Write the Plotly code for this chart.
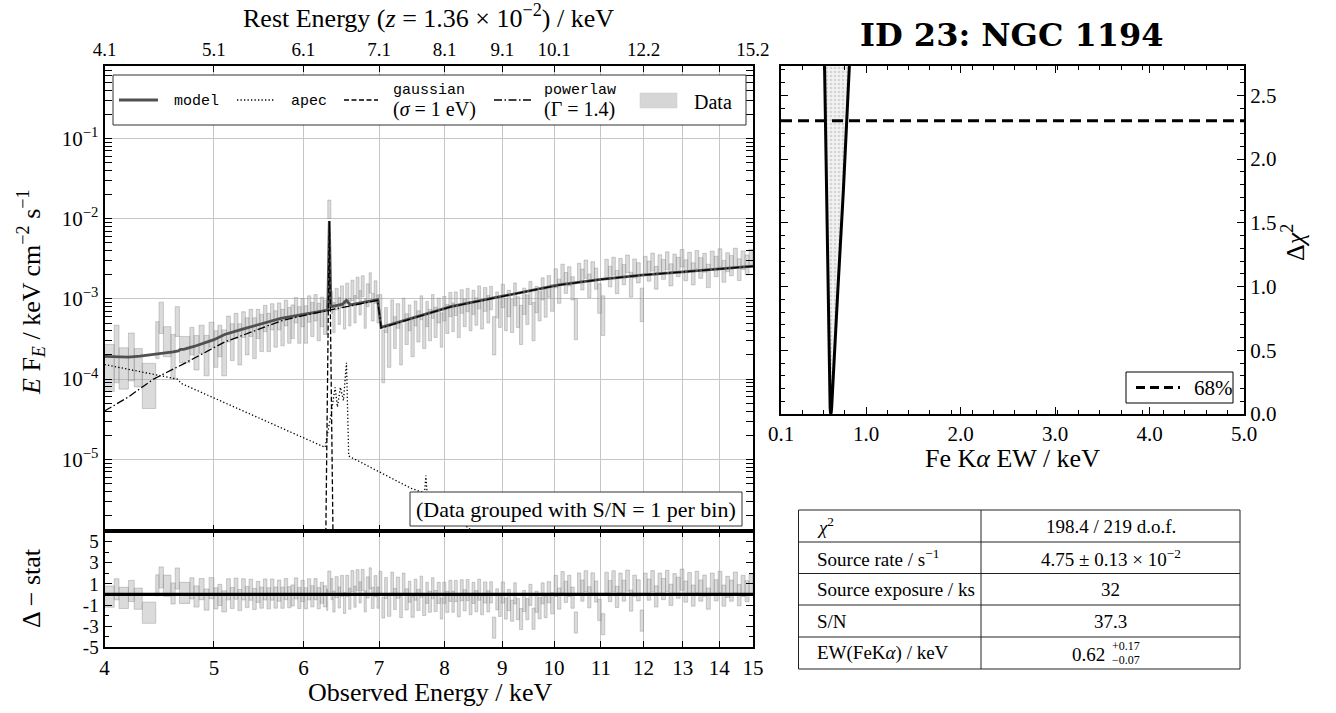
import numpy as np
import plotly.graph_objects as go

W, H = 1336, 713
SERIF = "Liberation Serif, DejaVu Serif, serif"
BOLDSERIF = "DejaVu Serif, Liberation Serif, serif"
MONO = "Liberation Mono, DejaVu Sans Mono, monospace"
GRID = "#c6c6c6"

# ------------------------------------------------------------------ data
UNIT = 1e-4  # spectral values below are in units of 1e-4 keV cm^-2 s^-1

# grouped spectrum: bin edges (keV), E F_E and 1-sigma error per bin
edges_a = [4.00, 4.08, 4.12, 4.20, 4.25, 4.32, 4.44, 4.47, 4.51, 4.58, 4.62, 4.66, 4.76, 4.80]
flux_a = [1.7, 2.8, 1.6, 2.35, 1.6, 1.0, 3.5, 6.4, 3.2, 2.3, 5.7, 2.5, 3.2]
err_a = [1.0, 1.9, 0.85, 1.4, 0.8, 0.57, 1.7, 2.7, 1.3, 1.3, 2.3, 0.9, 1.2]

edges_b = [4.80, 4.85, 4.90, 4.95, 5.00, 5.04, 5.08, 5.13, 5.17, 5.21, 5.25, 5.29, 5.33,
           5.37, 5.41, 5.45, 5.49, 5.53, 5.57, 5.61, 5.65, 5.69, 5.73, 5.77, 5.81, 5.85,
           5.89, 5.93, 5.97, 6.01, 6.05, 6.09, 6.13, 6.17, 6.21, 6.25, 6.29]
flux_b = [2.4, 3.4, 2.3, 3.8, 2.7, 3.3, 2.6, 4.5, 3.3, 4.9, 3.2, 5.1, 3.9, 5.4, 3.8, 5.3,
          4.3, 6.1, 4.4, 6.4, 4.8, 6.5, 5.0, 7.1, 5.3, 5.8, 7.7, 5.4, 7.3, 5.5, 8.0, 6.2,
          8.3, 5.9, 7.5, 6.6]
err_b = [1.1, 1.3, 1.2, 1.3, 1.3, 1.4, 1.5, 1.6, 1.6, 1.7, 1.7, 1.8, 1.9, 2.0, 2.0, 2.1,
         2.1, 2.2, 2.2, 2.3, 2.3, 2.4, 2.4, 2.5, 2.5, 2.6, 2.7, 2.6, 2.8, 2.7, 2.9, 2.8,
         3.0, 2.9, 3.0, 3.0]

edges_c = [6.29, 6.305, 6.345, 6.37, 6.40, 6.44, 6.47, 6.51, 6.54, 6.58, 6.61, 6.65, 6.68,
           6.72, 6.75, 6.79, 6.82, 6.86, 6.89, 6.93, 6.97, 7.00]
flux_c = [6.0, 135.0, 9.5, 6.4, 10.4, 7.6, 11.2, 6.9, 12.2, 7.4, 13.3, 8.0, 14.4, 9.5, 15.0,
          7.2, 11.7, 16.5, 8.5, 12.8, 8.1]
err_c = [2.4, 35.0, 2.9, 2.6, 3.1, 2.8, 3.3, 2.7, 3.5, 2.8, 3.8, 3.0, 4.2, 3.2, 4.4, 2.9,
         3.7, 4.7, 3.2, 4.0, 3.1]

edges_d = [7.00, 7.04, 7.08, 7.12, 7.17, 7.21, 7.25, 7.30, 7.34, 7.38, 7.43, 7.47, 7.52,
           7.56, 7.61, 7.65, 7.70, 7.74, 7.79, 7.83, 7.88, 7.93, 7.97, 8.02, 8.07, 8.12,
           8.16, 8.21, 8.26, 8.31, 8.36, 8.41, 8.46, 8.51, 8.56, 8.61, 8.66, 8.72, 8.77,
           8.82, 8.88, 8.93, 8.98, 9.04, 9.09, 9.15, 9.21, 9.26, 9.32, 9.38, 9.44, 9.50,
           9.56, 9.62, 9.68, 9.74, 9.80, 9.86, 9.93, 10.0]
flux_d = [8.5, 2.5, 5.8, 3.0, 7.4, 4.2, 6.5, 3.2, 7.8, 4.6, 6.2, 3.7, 7.0, 5.0, 8.2, 4.4,
          6.9, 5.2, 8.5, 5.6, 7.6, 4.6, 8.0, 6.1, 9.0, 6.4, 9.2, 5.7, 9.8, 7.2, 10.2, 6.6,
          9.6, 7.5, 11.0, 7.0, 10.4, 8.0, 10.8, 4.0, 9.0, 7.4, 11.5, 7.0, 9.4, 6.8, 12.0,
          7.5, 5.5, 10.0, 8.0, 12.5, 6.0, 10.5, 8.8, 14.0, 9.5, 15.0, 11.0]
err_d = [2.8, 1.6, 2.0, 1.6, 2.3, 1.8, 2.2, 1.7, 2.4, 1.9, 2.2, 1.8, 2.4, 2.1, 2.7, 2.0,
         2.4, 2.2, 2.8, 2.3, 2.6, 2.1, 2.7, 2.4, 3.0, 2.5, 3.0, 2.4, 3.2, 2.7, 3.3, 2.6,
         3.2, 2.8, 3.5, 2.8, 3.4, 3.0, 3.5, 2.0, 3.2, 3.0, 3.7, 3.0, 3.4, 3.0, 3.8, 3.1,
         2.8, 3.6, 3.2, 4.0, 3.0, 3.8, 3.5, 4.3, 3.6, 4.5, 4.0]

edges_e = [10.0, 10.07, 10.14, 10.21, 10.28, 10.35, 10.42, 10.49, 10.56, 10.63, 10.71,
           10.78, 10.86, 10.93, 11.01, 11.09, 11.17, 11.25, 11.33, 11.41, 11.49, 11.57,
           11.66, 11.74, 11.83, 11.92, 12.0, 12.09, 12.18, 12.27, 12.36, 12.45, 12.55,
           12.64, 12.74, 12.83, 12.93, 13.03, 13.13, 13.23, 13.33, 13.43, 13.54, 13.64,
           13.75, 13.86, 13.97, 14.08, 14.19, 14.30, 14.41, 14.53, 14.64, 14.76, 14.88, 15.0]
flux_e = [18.7, 13.2, 21.5, 16.5, 19.8, 14.3, 6.6, 22.0, 18.2, 24.2, 15.4, 23.1, 18.7,
          11.0, 7.2, 24.8, 19.8, 26.4, 17.1, 25.3, 20.9, 28.1, 16.0, 24.8, 22.0, 9.4, 27.0,
          23.1, 29.7, 19.3, 28.1, 24.2, 30.8, 20.9, 28.6, 25.9, 33.0, 23.7, 30.3, 21.5,
          31.9, 25.3, 29.2, 20.4, 31.4, 26.4, 33.6, 23.1, 29.7, 27.0, 34.1, 24.2, 31.4,
          27.5, 33.0]
err_e = [5.0, 4.4, 5.5, 4.8, 5.3, 4.6, 3.5, 5.7, 5.3, 6.2, 5.0, 5.9, 5.5, 4.4, 3.7, 6.3,
         5.7, 6.6, 5.5, 6.6, 5.9, 7.0, 5.5, 6.6, 6.2, 4.2, 6.9, 6.5, 7.5, 6.1, 7.3, 6.7,
         7.7, 6.4, 7.5, 7.0, 8.1, 6.9, 7.7, 6.6, 8.0, 7.3, 7.7, 6.6, 8.0, 7.5, 8.4, 7.0,
         7.9, 7.6, 8.6, 7.3, 8.1, 7.7, 8.4]

# fitted model components (keV, E F_E in 1e-4 units)
model_e = [4.0, 4.1, 4.2, 4.3, 4.4, 4.5, 4.6, 4.65, 4.67, 4.70, 4.8, 5.0, 5.11, 5.3, 5.5,
           5.73, 6.0, 6.29, 6.305, 6.325, 6.345, 6.40, 6.50, 6.55, 6.60, 6.8, 6.98, 7.03,
           7.5, 8.1, 9.0, 10.1, 11.0, 11.95, 13.0, 14.0, 15.0]
model_f = [1.92, 1.88, 1.88, 1.93, 2.0, 2.08, 2.18, 2.25, 2.35, 2.35, 2.55, 3.1, 3.6, 4.2,
           4.9, 5.7, 6.4, 7.2, 7.25, 93.0, 8.0, 8.2, 8.6, 9.6, 8.4, 9.1, 9.8, 4.4, 5.8,
           8.0, 10.8, 14.9, 17.5, 19.8, 21.7, 23.6, 25.5]

apec_e = [4.0, 4.64, 4.68, 6.27, 6.35, 6.40, 6.43, 6.47, 6.51, 6.55, 6.58, 7.47, 7.68,
          7.70, 7.72, 8.45, 9.5, 15.0]
apec_f = [1.52, 1.0, 0.88, 0.141, 0.376, 0.79, 0.45, 0.79, 0.54, 1.6, 0.11, 0.0436,
          0.038, 0.063, 0.037, 0.013, 0.006, 0.001]

gauss_e = [6.245, 6.325, 6.41]
gauss_f = [1e-5, 93.0, 1e-5]

pow_e = [4.0, 4.2, 4.42, 4.7, 5.11, 5.5, 5.73, 6.0, 6.29, 6.6, 6.98, 7.03, 7.5, 8.1, 9.0,
         10.1, 11.0, 11.95, 13.0, 14.0, 15.0]
pow_f = [0.40, 0.60, 1.0, 1.55, 2.9, 4.3, 5.3, 6.2, 7.1, 8.2, 9.6, 4.35, 5.75, 7.95,
         10.75, 14.85, 17.45, 19.75, 21.65, 23.55, 25.45]

# Fe K-alpha equivalent-width delta-chi^2 profile
ew_profile = [0.555, 0.561, 0.588, 0.609, 0.615, 0.620, 0.624, 0.627, 0.631, 0.636, 0.642,
              0.650, 0.70, 0.76, 0.823, 0.841]
dchi_profile = [3.0, 2.73, 1.4, 0.32, 0.14, 0.05, 0.012, 0.0, 0.012, 0.05, 0.14, 0.30,
                0.95, 1.75, 2.73, 3.0]
DCHI_68 = 2.30

top_tick_obs = [4, 5, 6, 7, 8, 9, 10, 11, 12, 13, 14, 15]
top_tick_text = ["4.1", "5.1", "6.1", "7.1", "8.1", "9.1", "10.1", "", "12.2", "", "", "15.2"]

table_left = ["<i>χ</i><sup>2</sup>", "Source rate / s<sup>−1</sup>", "Source exposure / ks",
              "S/N", "EW(FeK<i>α</i>) / keV"]
table_right = ["198.4 / 219 d.o.f.", "4.75 ± 0.13 × 10<sup>−2</sup>", "32", "37.3", "0.62"]

# ------------------------------------------------------------------ helpers
def fx(x):
    return x / W


def fy(y):
    return 1 - y / H


edges_all = edges_a + edges_b[1:] + edges_c[1:] + edges_d[1:] + edges_e[1:]
flux_all = flux_a + flux_b + flux_c + flux_d + flux_e
err_all = err_a + err_b + err_c + err_d + err_e
n = min(len(edges_all) - 1, len(flux_all), len(err_all))
lo = np.array(edges_all[:n])
hi = np.array(edges_all[1:n + 1])
f = np.array(flux_all[:n])
e = np.array(err_all[:n])
cen = np.sqrt(lo * hi)
mod_c = 10 ** np.interp(np.log10(cen), np.log10(model_e), np.log10(model_f))
resid = (f - mod_c) / e


def rects(x0, x1, y0, y1):
    xs, ys = [], []
    for a, b, c, d in zip(x0, x1, y0, y1):
        xs += [a, b, b, a, a, None]
        ys += [c, c, d, d, c, None]
    return xs, ys


BOX_FILL = "rgba(165,165,165,0.40)"
BOX_LINE = "rgba(135,135,135,0.55)"

fig = go.Figure()

bx, by = rects(lo, hi, (f - e) * UNIT, (f + e) * UNIT)
fig.add_trace(go.Scatter(x=bx, y=by, mode="lines", fill="toself", fillcolor=BOX_FILL,
                         line=dict(color=BOX_LINE, width=0.7), xaxis="x", yaxis="y",
                         hoverinfo="skip", showlegend=False))

fig.add_trace(go.Scatter(x=model_e, y=np.array(model_f) * UNIT, mode="lines",
                         line=dict(color="#505050", width=2.8), xaxis="x", yaxis="y",
                         showlegend=False))
fig.add_trace(go.Scatter(x=apec_e, y=np.array(apec_f) * UNIT, mode="lines",
                         line=dict(color="black", width=1.3, dash="1.3px,2.2px"),
                         xaxis="x", yaxis="y", showlegend=False))
fig.add_trace(go.Scatter(x=gauss_e, y=np.array(gauss_f) * UNIT, mode="lines",
                         line=dict(color="black", width=1.3, dash="5px,2.5px"),
                         xaxis="x", yaxis="y", showlegend=False))
fig.add_trace(go.Scatter(x=pow_e, y=np.array(pow_f) * UNIT, mode="lines",
                         line=dict(color="black", width=1.3, dash="8px,2.5px,1.5px,2.5px"),
                         xaxis="x", yaxis="y", showlegend=False))
# anchor trace for the top (rest-frame) axis
fig.add_trace(go.Scatter(x=[4, 15], y=[1e-3, 1e-3], mode="markers", marker=dict(opacity=0),
                         xaxis="x3", yaxis="y", hoverinfo="skip", showlegend=False))

# residuals
rx, ry = rects(lo, hi, resid - 1, resid + 1)
fig.add_trace(go.Scatter(x=rx, y=ry, mode="lines", fill="toself", fillcolor=BOX_FILL,
                         line=dict(color=BOX_LINE, width=0.7), xaxis="x2", yaxis="y2",
                         hoverinfo="skip", showlegend=False))
fig.add_trace(go.Scatter(x=[4, 15], y=[0, 0], mode="lines", line=dict(color="black", width=3.2),
                         xaxis="x2", yaxis="y2", showlegend=False))

# EW profile
fig.add_trace(go.Scatter(x=ew_profile, y=dchi_profile, mode="lines", fill="toself",
                         fillcolor="rgba(235,235,235,1)",
                         fillpattern=dict(shape=".", fgcolor="#b5b5b5", bgcolor="#f2f2f2",
                                          size=4, solidity=0.35),
                         line=dict(color="black", width=3), xaxis="x4", yaxis="y4",
                         showlegend=False))
fig.add_trace(go.Scatter(x=[0.1, 5.0], y=[DCHI_68, DCHI_68], mode="lines",
                         line=dict(color="black", width=3, dash="11px,6px"),
                         xaxis="x4", yaxis="y4", showlegend=False))

# ------------------------------------------------------------------ axes
X0, X1 = 104.5, 753.0
MT, MB, RB = 66.0, 531.0, 647.3
XR0, XR1, RT, RBOT = 781.0, 1244.0, 66.0, 414.0

minor_log = [m * 10.0 ** k for k in range(-7, 0) for m in range(2, 10)]
TICK = 21
tick_font = dict(family=SERIF, size=TICK, color="black")
common = dict(showline=True, linecolor="black", linewidth=2, ticks="inside",
              tickcolor="black", tickwidth=1, zeroline=False, automargin=False)
xr = [np.log10(4) - 1e-5, np.log10(15) + 1e-5]

fig.update_layout(
    width=W, height=H, margin=dict(l=0, r=0, t=0, b=0, pad=0, autoexpand=False),
    paper_bgcolor="white", plot_bgcolor="white",
    xaxis=dict(domain=[fx(X0), fx(X1)], anchor="y", type="log", range=xr,
               tickvals=list(range(4, 16)), showticklabels=False, ticklen=6,
               showgrid=True, gridcolor=GRID, gridwidth=1, **common),
    xaxis3=dict(overlaying="x", side="top", anchor="y", type="log", range=xr,
                tickvals=top_tick_obs, ticktext=top_tick_text, ticklen=6, showgrid=False,
                tickfont=dict(family=SERIF, size=19, color="black"), **common),
    yaxis=dict(domain=[fy(MB), fy(MT)], anchor="x", type="log",
               range=[np.log10(1.28e-6), np.log10(0.797)],
               tickvals=[1e-5, 1e-4, 1e-3, 1e-2, 1e-1],
               ticktext=["10<sup>−5</sup>", "10<sup>−4</sup>", "10<sup>−3</sup>",
                         "10<sup>−2</sup>", "10<sup>−1</sup>"],
               ticklen=7, mirror="allticks", showgrid=True, gridcolor=GRID, gridwidth=1,
               minor=dict(tickmode="array", tickvals=minor_log, ticks="inside", ticklen=4,
                          tickcolor="black", showgrid=False),
               tickfont=tick_font, **common),
    xaxis2=dict(domain=[fx(X0), fx(X1)], anchor="y2", type="log", range=xr,
                tickvals=list(range(4, 16)), ticktext=[str(v) for v in range(4, 16)],
                ticklen=6, mirror="allticks", showgrid=True, gridcolor=GRID, gridwidth=1,
                tickfont=tick_font, **common),
    yaxis2=dict(domain=[fy(RB), fy(MB)], anchor="x2", range=[-5, 6],
                tickvals=[-5, -3, -1, 1, 3, 5], ticktext=["-5", "-3", "-1", "1", "3", "5"],
                ticklen=7, mirror="allticks", showgrid=False,
                minor=dict(tickmode="array", tickvals=[-4, -2, 0, 2, 4], ticks="inside",
                           ticklen=4, tickcolor="black", showgrid=False),
                tickfont=dict(family=SERIF, size=19, color="black"), **common),
    xaxis4=dict(domain=[fx(XR0), fx(XR1)], anchor="y4", range=[0.1 - 1e-6, 5.0 + 1e-6],
                tickvals=[0.1, 1, 2, 3, 4, 5], ticktext=["0.1", "1.0", "2.0", "3.0", "4.0", "5.0"],
                ticklen=7, mirror="allticks", showgrid=False,
                minor=dict(tick0=0.1, dtick=0.225, ticks="inside", ticklen=4,
                           tickcolor="black", showgrid=False),
                tickfont=tick_font, **common),
    yaxis4=dict(domain=[fy(RBOT), fy(RT)], anchor="x4", side="right", range=[0, 2.73],
                tickvals=[0, 0.5, 1.0, 1.5, 2.0, 2.5],
                ticktext=["0.0", "0.5", "1.0", "1.5", "2.0", "2.5"],
                ticklen=7, mirror="allticks", showgrid=False,
                minor=dict(tick0=0, dtick=0.1, ticks="inside", ticklen=4,
                           tickcolor="black", showgrid=False),
                tickfont=tick_font, **common),
)

# ------------------------------------------------------------------ annotations & shapes
shapes = []
ann = []


def text(x, y, s, size=18, family=SERIF, xanchor="center", angle=0, bold=False):
    if bold:
        s = "<b>" + s + "</b>"
    ann.append(dict(x=fx(x), y=fy(y), xref="paper", yref="paper", text=s, showarrow=False,
                    xanchor=xanchor, yanchor="middle", textangle=angle,
                    font=dict(family=family, size=size, color="black")))


def hline(x0, x1, y, color="black", width=1.3, dash="solid"):
    shapes.append(dict(type="line", xref="paper", yref="paper", x0=fx(x0), x1=fx(x1),
                       y0=fy(y), y1=fy(y), line=dict(color=color, width=width, dash=dash),
                       layer="above"))


def rect(x0, y0, x1, y1, fill="white", line="black", width=1.0):
    shapes.append(dict(type="rect", xref="paper", yref="paper", x0=fx(x0), x1=fx(x1),
                       y0=fy(y1), y1=fy(y0), fillcolor=fill,
                       line=dict(color=line, width=width), layer="above"))


# axis titles
text(428, 16, "Rest Energy (<i>z</i> = 1.36 × 10<sup>−2</sup>) / keV", size=26)
text(430, 692, "Observed Energy / keV", size=26)
text(31, 292, "<i>E</i> F<sub><i>E</i></sub> / keV cm<sup>−2</sup> s<sup>−1</sup>", size=26,
     angle=-90)
text(31, 588, "Δ − stat", size=26, angle=-90)
text(1012, 35, "ID 23: NGC 1194", size=32, family=BOLDSERIF, bold=True)
text(1012, 458, "Fe K<i>α</i> EW / keV", size=26)
text(1293, 243, "Δ<i>χ</i><sup>2</sup>", size=26, angle=-90)

# legend of the spectrum panel
rect(113, 75, 746, 125, line="#333333", width=1)
hline(119, 158, 100, color="#505050", width=3)
text(172, 102, "model", size=15, family=MONO, xanchor="left")
hline(237, 275, 100, width=1.3, dash="1.3px,2.2px")
text(289, 102, "apec", size=15, family=MONO, xanchor="left")
hline(344, 378, 100, width=1.3, dash="5px,2.5px")
text(391, 90, "gaussian", size=15, family=MONO, xanchor="left")
text(391, 110, "(<i>σ</i> = 1 eV)", size=20, xanchor="left")
hline(494, 533, 100, width=1.3, dash="8px,2.5px,1.5px,2.5px")
text(542, 90, "powerlaw", size=15, family=MONO, xanchor="left")
text(542, 110, "(Γ = 1.4)", size=20, xanchor="left")
rect(640, 93, 677, 108, fill="#d6d6d6", line="#c8c8c8", width=0.5)
text(692, 102, "Data", size=20, xanchor="left")

# grouping note
rect(410, 492, 742, 526, line="#333333", width=1)
text(576, 509, "(Data grouped with S/N = 1 per bin)", size=22)

# 68% legend in the EW panel
rect(1126, 372, 1233, 403, line="black", width=1)
hline(1136, 1180, 387.5, width=3, dash="9px,5px")
text(1192, 388, "68%", size=21, xanchor="left")

# table
TL, TR, TS = 798.5, 1240.0, 981.0
rows_y = [510, 542, 573.5, 605, 637, 669]
rect(TL, rows_y[0], TR, rows_y[-1], fill="rgba(0,0,0,0)", line="#222222", width=1)
for yy in rows_y[1:-1]:
    hline(TL, TR, yy, color="#222222", width=1)
shapes.append(dict(type="line", xref="paper", yref="paper", x0=fx(TS), x1=fx(TS),
                   y0=fy(rows_y[0]), y1=fy(rows_y[-1]), line=dict(color="#222222", width=1),
                   layer="above"))
for i in range(5):
    yc = (rows_y[i] + rows_y[i + 1]) / 2
    text(815, yc, table_left[i], size=19, xanchor="left")
    if i < 4:
        text((TS + TR) / 2, yc, table_right[i], size=19)
yc = (rows_y[4] + rows_y[5]) / 2
text(1107, yc + 1, table_right[4], size=19, xanchor="right")
text(1110, yc - 7, "+0.17", size=12, xanchor="left")
text(1110, yc + 7, "−0.07", size=12, xanchor="left")

fig.update_layout(shapes=shapes, annotations=ann)
fig.write_html("out.html")
